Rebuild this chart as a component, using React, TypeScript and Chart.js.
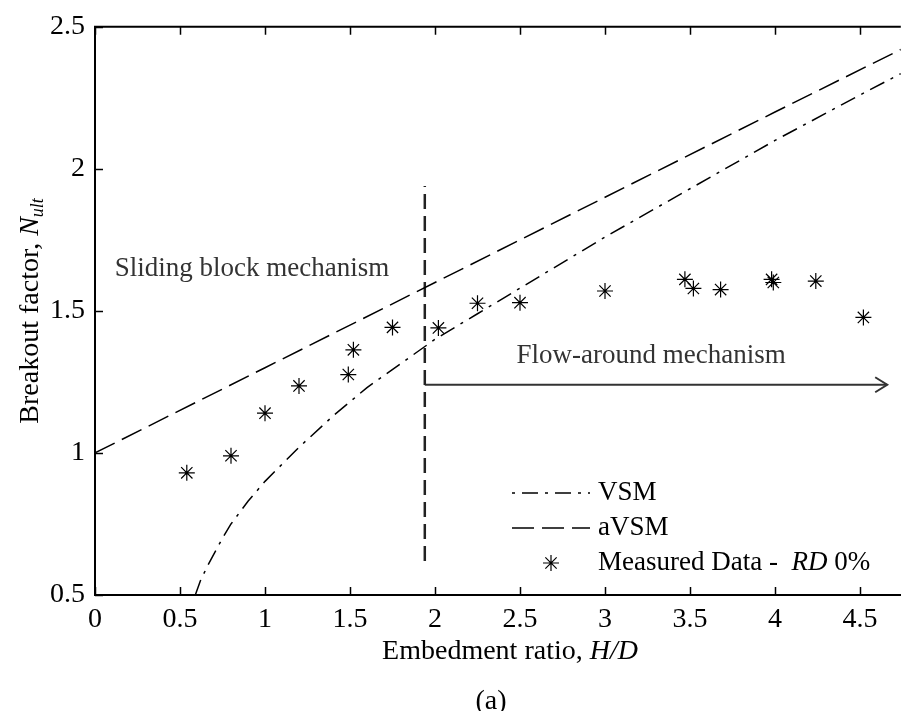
import React, { useEffect, useRef } from 'react';
import { Chart, registerables } from 'chart.js';

Chart.register(...registerables);

const FONT = "'Liberation Serif', 'Times New Roman', serif";

// Measured data (RD 0%)
const measuredX = [0.54, 0.8, 1.0, 1.2, 1.49, 1.52, 1.75, 2.02, 2.25, 2.5, 3.0, 3.47, 3.52, 3.68, 3.98, 3.99, 4.24, 4.52];
const measuredY = [0.93, 0.99, 1.14, 1.236, 1.276, 1.363, 1.442, 1.44, 1.527, 1.529, 1.57, 1.611, 1.579, 1.575, 1.611, 1.6, 1.605, 1.477];

// VSM curve
const vsmX = [0.59, 0.62, 0.66, 0.7, 0.75, 0.8, 0.9, 1.0, 1.1, 1.2, 1.4, 1.6, 1.8, 2.0, 2.25, 2.5, 3.0, 3.5, 4.0, 4.5, 4.74];
const vsmY = [0.5, 0.55, 0.6, 0.645, 0.7, 0.75, 0.83, 0.9, 0.96, 1.02, 1.13, 1.23, 1.315, 1.4, 1.49, 1.58, 1.76, 1.93, 2.1, 2.26, 2.335];

// aVSM line
const avsmX = [0, 1, 2, 3, 4, 4.74];
const avsmY = [1.0, 1.3, 1.6, 1.9, 2.2, 2.42];

// Mechanism boundary and arrow
const boundaryX = [1.94, 1.94];
const boundaryY = [0.62, 1.94];
const arrowX = [1.94, 4.66];
const arrowY = [1.24, 1.24];

const xMin = 0;
const xMax = 4.74;
const yMin = 0.5;
const yMax = 2.5;

const zip = (xs: number[], ys: number[]) => xs.map((x, i) => ({ x, y: ys[i] }));
const fmt = (v: any) => String(Number(Number(v).toFixed(2)));

type Run = { t: string; italic?: boolean; size?: number; dy?: number };

function runsWidth(ctx: CanvasRenderingContext2D, runs: Run[], size: number) {
  let w = 0;
  for (const r of runs) {
    ctx.font = `${r.italic ? 'italic ' : ''}${r.size ?? size}px ${FONT}`;
    w += ctx.measureText(r.t).width;
  }
  return w;
}

function drawRuns(ctx: CanvasRenderingContext2D, runs: Run[], x: number, y: number, size: number, align: 'left' | 'center') {
  const w = runsWidth(ctx, runs, size);
  let cx = align === 'center' ? x - w / 2 : x;
  ctx.textAlign = 'left';
  ctx.textBaseline = 'middle';
  for (const r of runs) {
    ctx.font = `${r.italic ? 'italic ' : ''}${r.size ?? size}px ${FONT}`;
    ctx.fillText(r.t, cx, y + (r.dy ?? 0));
    cx += ctx.measureText(r.t).width;
  }
}

const overlay = {
  id: 'overlay',
  afterDraw(chart: any) {
    const ctx: CanvasRenderingContext2D = chart.ctx;
    const xs = chart.scales.x;
    const ys = chart.scales.y;
    const ca = chart.chartArea;
    ctx.save();

    // top border
    ctx.strokeStyle = '#000';
    ctx.lineWidth = 2;
    ctx.beginPath();
    ctx.moveTo(ca.left - 1, ca.top);
    ctx.lineTo(ca.right, ca.top);
    ctx.stroke();

    // inward tick marks
    ctx.lineWidth = 1.5;
    const tl = 8;
    xs.ticks.forEach((t: any) => {
      const px = Math.round(xs.getPixelForValue(t.value)) + 0.5;
      ctx.beginPath();
      ctx.moveTo(px, ca.bottom);
      ctx.lineTo(px, ca.bottom - tl);
      ctx.moveTo(px, ca.top);
      ctx.lineTo(px, ca.top + tl);
      ctx.stroke();
    });
    ys.ticks.forEach((t: any) => {
      const py = Math.round(ys.getPixelForValue(t.value)) + 0.5;
      ctx.beginPath();
      ctx.moveTo(ca.left, py);
      ctx.lineTo(ca.left + tl, py);
      ctx.stroke();
    });

    // arrow head
    const tipX = xs.getPixelForValue(arrowX[1]);
    const tipY = ys.getPixelForValue(arrowY[1]);
    ctx.strokeStyle = '#333';
    ctx.lineWidth = 2;
    ctx.beginPath();
    ctx.moveTo(tipX - 12, tipY - 7.5);
    ctx.lineTo(tipX, tipY);
    ctx.lineTo(tipX - 12, tipY + 7.5);
    ctx.stroke();

    // annotations
    ctx.fillStyle = '#333';
    drawRuns(ctx, [{ t: 'Sliding block mechanism' }], xs.getPixelForValue(0.116), ys.getPixelForValue(1.649), 27, 'left');
    drawRuns(ctx, [{ t: 'Flow-around mechanism' }], xs.getPixelForValue(2.48), ys.getPixelForValue(1.34), 27, 'left');

    // legend
    ctx.fillStyle = '#000';
    ctx.strokeStyle = '#000';
    const lx0 = 512, lx1 = 590, tx = 598;
    const rows = [493, 528, 563];
    ctx.lineWidth = 1.5;
    ctx.setLineDash([16, 7, 3, 7]);
    ctx.lineDashOffset = 23;
    ctx.beginPath();
    ctx.moveTo(lx0, rows[0]);
    ctx.lineTo(lx1, rows[0]);
    ctx.stroke();
    ctx.lineDashOffset = 0;
    ctx.setLineDash([22, 8]);
    ctx.beginPath();
    ctx.moveTo(lx0, rows[1]);
    ctx.lineTo(lx1, rows[1]);
    ctx.stroke();
    ctx.setLineDash([]);
    const sx = (lx0 + lx1) / 2, sy = rows[2], r = 8;
    ctx.lineWidth = 1.2;
    ctx.beginPath();
    for (let k = 0; k < 4; k++) {
      const a = (k * Math.PI) / 4;
      ctx.moveTo(sx - r * Math.cos(a), sy - r * Math.sin(a));
      ctx.lineTo(sx + r * Math.cos(a), sy + r * Math.sin(a));
    }
    ctx.stroke();
    drawRuns(ctx, [{ t: 'VSM' }], tx, rows[0], 27, 'left');
    drawRuns(ctx, [{ t: 'aVSM' }], tx, rows[1], 27, 'left');
    drawRuns(ctx, [{ t: 'Measured Data -  ' }, { t: 'RD', italic: true }, { t: ' 0%' }], tx, rows[2], 27, 'left');

    // axis titles
    drawRuns(ctx, [{ t: 'Embedment ratio, ' }, { t: 'H/D', italic: true }], 510, 652, 28, 'center');
    drawRuns(ctx, [{ t: '(a)' }], 491, 702, 28, 'center');

    ctx.save();
    ctx.translate(31, (ca.top + ca.bottom) / 2);
    ctx.rotate(-Math.PI / 2);
    drawRuns(
      ctx,
      [{ t: 'Breakout factor, ' }, { t: 'N', italic: true }, { t: 'ult', italic: true, size: 18, dy: 7 }],
      0,
      0,
      28,
      'center'
    );
    ctx.restore();

    ctx.restore();
  },
};

export default function App() {
  const ref = useRef<HTMLCanvasElement | null>(null);

  useEffect(() => {
    document.body.style.margin = '0';
    if (!ref.current) return;
    const chart = new Chart(ref.current, {
      type: 'scatter',
      data: {
        datasets: [
          {
            label: 'VSM',
            data: zip(vsmX, vsmY),
            showLine: true,
            borderColor: '#000',
            borderWidth: 1.5,
            borderDash: [16, 7, 3, 7],
            pointRadius: 0,
            fill: false,
            tension: 0,
          },
          {
            label: 'aVSM',
            data: zip(avsmX, avsmY),
            showLine: true,
            borderColor: '#000',
            borderWidth: 1.5,
            borderDash: [22, 8],
            pointRadius: 0,
            fill: false,
          },
          {
            label: 'Boundary',
            data: zip(boundaryX, boundaryY),
            showLine: true,
            borderColor: '#222',
            borderWidth: 2.5,
            borderDash: [15, 7],
            pointRadius: 0,
            fill: false,
          },
          {
            label: 'Arrow',
            data: zip(arrowX, arrowY),
            showLine: true,
            borderColor: '#333',
            borderWidth: 2,
            pointRadius: 0,
            fill: false,
          },
          {
            label: 'Measured Data - RD 0%',
            data: zip(measuredX, measuredY),
            showLine: false,
            pointStyle: 'star',
            pointRadius: 8,
            pointBorderWidth: 1.2,
            borderColor: '#000',
            backgroundColor: '#000',
          },
        ],
      },
      options: {
        animation: false,
        responsive: false,
        devicePixelRatio: 1,
        layout: { padding: { top: 17, right: 0, left: 0, bottom: 0 } },
        plugins: {
          legend: { display: false },
          tooltip: { enabled: false },
        },
        scales: {
          x: {
            type: 'linear',
            min: xMin,
            max: xMax,
            grid: { display: false, drawTicks: false },
            border: { display: true, color: '#000', width: 2 },
            ticks: {
              stepSize: 0.5,
              includeBounds: false,
              color: '#000',
              font: { family: FONT, size: 28 },
              padding: 8,
              maxRotation: 0,
              autoSkip: false,
              callback: (v: any) => fmt(v),
            },
            afterFit: (s: any) => {
              s.height = 116;
            },
          },
          y: {
            type: 'linear',
            min: yMin,
            max: yMax,
            grid: { display: false, drawTicks: false },
            border: { display: true, color: '#000', width: 2 },
            ticks: {
              stepSize: 0.5,
              color: '#000',
              font: { family: FONT, size: 28 },
              padding: 10,
              autoSkip: false,
              callback: (v: any) => fmt(v),
            },
            afterFit: (s: any) => {
              s.width = 95;
            },
          },
        },
      },
      plugins: [overlay],
    } as any);
    return () => chart.destroy();
  }, []);

  return <canvas ref={ref} width={910} height={711} style={{ display: 'block', width: 910, height: 711 }} />;
}
